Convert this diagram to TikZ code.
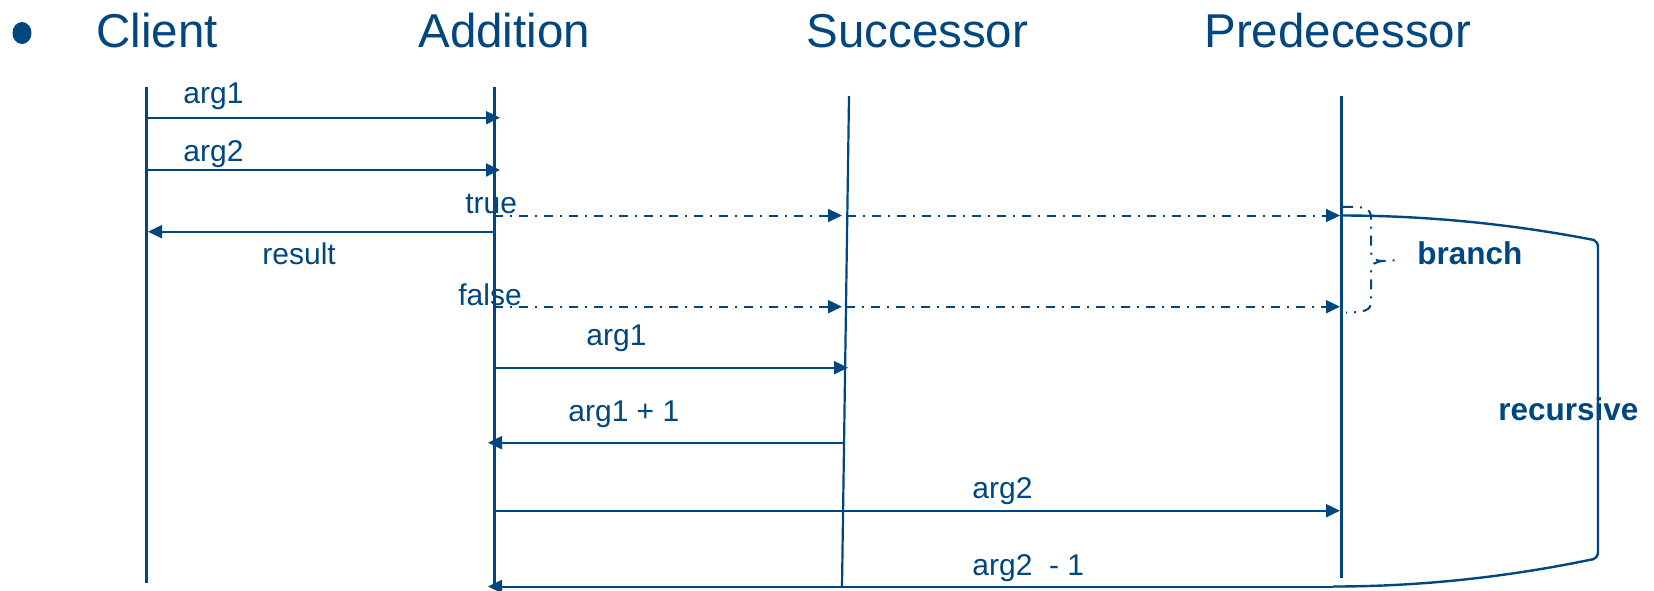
\documentclass[tikz,border=0pt]{standalone}
\usepackage{fontspec}
\setmainfont{Liberation Sans}
\usetikzlibrary{arrows.meta}
\definecolor{ink}{RGB}{0,70,127}
\begin{document}
\begin{tikzpicture}[x=0.5pt,y=-0.5pt,
  lifeline/.style={draw=ink,line width=1.5pt},
  thinlife/.style={draw=ink,line width=1.1pt},
  msg/.style={draw=ink,line width=1pt,-{Triangle[length=7pt,width=6.5pt]}},
  alt/.style={msg,dash pattern=on 4.5pt off 3.5pt on 1pt off 3.5pt},
  bracepath/.style={draw=ink,line width=1pt,dash pattern=on 5pt off 3.5pt on 1pt off 3.5pt},
  loopline/.style={draw=ink,line width=1.2pt},
  head/.style={anchor=base west,inner sep=0pt,text=ink,font=\fontsize{23.75}{28}\selectfont},
  lbl/.style={anchor=base west,inner sep=0pt,text=ink,font=\fontsize{15}{18}\selectfont},
  blbl/.style={anchor=base west,inner sep=0pt,text=ink,font=\fontsize{15.75}{18}\selectfont\bfseries}]
\useasboundingbox (0,0) rectangle (1654,590);
\fill[white] (0,0) rectangle (1654,590);

% bullet and participant names
\fill[ink] (22,33) ellipse [x radius=9.5, y radius=11];
\node[head] (hclient) at (96,47) {Client};
\node[head] (hadd)    at (418,47) {Addition};
\node[head] (hsucc)   at (806,47) {Successor};
\node[head] (hpred)   at (1204,47) {Predecessor};

% lifelines
\coordinate (cT) at (146,87);   \coordinate (cB) at (146,583);
\coordinate (aT) at (494,87);   \coordinate (aB) at (494,586);
\coordinate (sT) at (849,96);   \coordinate (sB) at (842,586);
\coordinate (pT) at (1341,96);  \coordinate (pB) at (1341,578);
\draw[lifeline] (cT) -- (cB);
\draw[lifeline] (aT) -- (aB);
\draw[thinlife] (sT) -- (sB);
\draw[lifeline] (pT) -- (pB);

% message end points
\coordinate (m1a) at (146,117.7);  \coordinate (m1b) at (500,117.7);
\coordinate (m2a) at (146,170);    \coordinate (m2b) at (500,170);
\coordinate (m3a) at (494,231.7);  \coordinate (m3b) at (148,231.7);
\coordinate (t0) at (494,215.5);   \coordinate (t1) at (842,215.5);
\coordinate (t2) at (847,215.5);   \coordinate (t3) at (1340,215.5);
\coordinate (f0) at (494,306.7);   \coordinate (f1) at (842,306.7);
\coordinate (f2) at (846,306.7);   \coordinate (f3) at (1340,306.7);
\coordinate (m6a) at (494,367.7);  \coordinate (m6b) at (848,367.7);
\coordinate (m7a) at (844,442.7);  \coordinate (m7b) at (488,442.7);
\coordinate (m8a) at (494,510.7);  \coordinate (m8b) at (1340,510.7);
\coordinate (loopS) at (1341,215.5);
\coordinate (loopE) at (1333,586.5);
\coordinate (m9b) at (488,586.5);

% messages
\draw[msg] (m1a) -- (m1b);
\draw[msg] (m2a) -- (m2b);
\draw[msg] (m3a) -- (m3b);
\draw[alt] (t0) -- (t1);
\draw[alt] (t2) -- (t3);
\draw[alt] (f0) -- (f1);
\draw[alt] (f2) -- (f3);
\draw[msg] (m6a) -- (m6b);
\draw[msg] (m7a) -- (m7b);
\draw[msg] (m8a) -- (m8b);

% recursive loop back into Addition
\draw[loopline] (loopS) .. controls (1425,215.5) and (1510,223.7) .. (1594,240)
  .. controls (1597,241.5) and (1598,244) .. (1598,248) -- (1598,551)
  .. controls (1598,555) and (1597,557.5) .. (1594,559)
  .. controls (1506.7,577.3) and (1419.7,586.5) .. (loopE);
\draw[msg] (loopE) -- (m9b);

% branch brace
\draw[bracepath] (1343,207) .. controls (1364,206) and (1371,208) .. (1371,218)
  -- (1371,252) .. controls (1371,258) and (1375,261) .. (1383,261) -- (1400,260);
\draw[bracepath] (1383,261) .. controls (1375,262) and (1371,264) .. (1371,270)
  -- (1371,302) .. controls (1371,310) and (1365,312.5) .. (1346,312.5);

% labels
\node[lbl] (l1) at (183,103.5) {arg1};
\node[lbl] (l2) at (183,161.5) {arg2};
\node[lbl] (l3) at (262,264) {result};
\node[lbl] (l4) at (465,213) {true};
\node[lbl] (l5) at (458,305) {false};
\node[lbl] (l6) at (586,345) {arg1};
\node[lbl] (l7) at (568,421.7) {arg1 + 1};
\node[lbl] (l8) at (972,498) {arg2};
\node[lbl] (l9) at (972,575) {arg2\ \ - 1};
\node[blbl] (lb) at (1417,264.5) {branch};
\node[blbl] (lr) at (1498,420.5) {recursive};
\end{tikzpicture}
\end{document}
